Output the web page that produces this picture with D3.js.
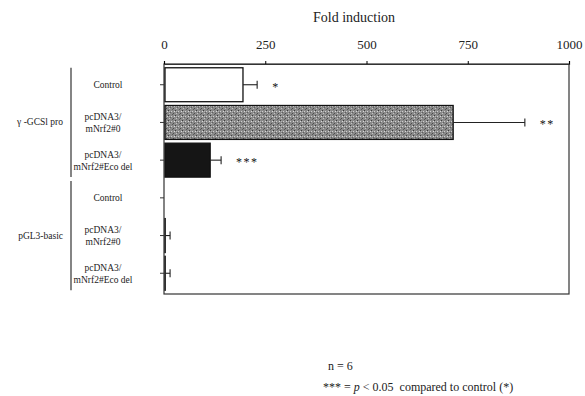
<!DOCTYPE html>
<html>
<head>
<meta charset="utf-8">
<script src="https://cdn.jsdelivr.net/npm/d3@7"></script>
<style>
  body { margin: 0; background: #fff; }
  text { font-family: "Liberation Serif", "DejaVu Serif", serif; fill: #222; }
</style>
</head>
<body>
<div id="chart"></div>
<script>
// Data
const groupNames = ["\u03b3 -GCSl pro", "pGL3-basic"];
const rowIds = ["g1", "g1n", "g1e", "b1", "b1n", "b1e"];
const rowGroup = [0, 0, 0, 1, 1, 1];
const rowLabels = [
    ["Control"],
    ["pcDNA3/", "mNrf2#0"],
    ["pcDNA3/", "mNrf2#Eco del"],
    ["Control"],
    ["pcDNA3/", "mNrf2#0"],
    ["pcDNA3/", "mNrf2#Eco del"]
];
const foldValues = [195, 714, 114, 0, 3, 3];
const errValues = [35, 177, 27, 0, 12, 12];
const sigMarks = ["*", "**", "***", "", "", ""];
const xTicks = [0, 250, 500, 750, 1000];

const width = 585;
const height = 396;
const margins = {top: 64, right: 16, bottom: 102, left: 164};

const svg = d3.select("#chart")
    .append("svg")
    .attr("width", width)
    .attr("height", height);

// speckled grey fill for the second bar
const defs = svg.append("defs");
const pat = defs.append("pattern")
    .attr("id", "speckle")
    .attr("patternUnits", "userSpaceOnUse")
    .attr("width", 7)
    .attr("height", 5);
pat.append("rect").attr("width", 7).attr("height", 5).attr("fill", "#8a8a8a");
[[0,0,"#3c3c3c"],[3,1,"#cfcfcf"],[5,3,"#4a4a4a"],[1,3,"#c4c4c4"],[4,4,"#5a5a5a"],[6,1,"#dadada"],[2,2,"#5f5f5f"],[1,1,"#b5b5b5"]]
    .forEach(p => pat.append("rect")
        .attr("x", p[0]).attr("y", p[1])
        .attr("width", 1).attr("height", 1)
        .attr("fill", p[2]));

// Scales
const x = d3.scaleLinear()
    .domain([0, 1000])
    .range([margins.left, width - margins.right]);
const y = d3.scaleBand()
    .domain(rowIds)
    .range([margins.top, height - margins.bottom])
    .paddingInner(0.1)
    .paddingOuter(0.1);
const fill = d3.scaleOrdinal()
    .domain(rowIds)
    .range(["#fff", "url(#speckle)", "#151515", "#fff", "#fff", "#fff"]);

const rows = rowIds.map((id, i) => ({
    id, label: rowLabels[i], group: rowGroup[i],
    value: foldValues[i], err: errValues[i], mark: sigMarks[i]
}));

// Frame
const x0 = x(0), x1 = x(1000), yTop = margins.top, yBot = height - margins.bottom;
svg.append("rect")
    .attr("x", x0).attr("y", yTop)
    .attr("width", x1 - x0).attr("height", yBot - yTop)
    .attr("fill", "none")
    .attr("stroke", "#333")
    .attr("stroke-width", 1.2);

// Top axis
const xAxis = svg.append("g")
    .attr("transform", `translate(0,${yTop})`)
    .call(d3.axisTop(x).tickValues(xTicks).tickFormat(d3.format("d")).tickSize(3).tickPadding(12));
xAxis.select(".domain").attr("stroke", "#333").attr("stroke-width", 1.2);
xAxis.selectAll("text")
    .style("font-family", "Liberation Serif, serif")
    .style("font-size", "13px")
    .attr("fill", "#222");

svg.append("text")
    .attr("x", 354)
    .attr("y", 22)
    .attr("text-anchor", "middle")
    .style("font-size", "14px")
    .text("Fold induction");

// Left axis ticks (labels drawn separately)
const yAxis = svg.append("g")
    .attr("transform", `translate(${x0},0)`)
    .call(d3.axisLeft(y).tickSize(4).tickFormat(""));
yAxis.select(".domain").remove();
yAxis.selectAll("line").attr("stroke", "#333");

// Bars
svg.selectAll(".bar")
    .data(rows)
    .enter()
    .append("rect")
    .attr("class", "bar")
    .attr("x", x0 + 1)
    .attr("y", d => y(d.id))
    .attr("width", d => Math.max(0, x(d.value) - x0 - 1))
    .attr("height", y.bandwidth())
    .attr("fill", d => fill(d.id))
    .attr("stroke", d => d.value > 0 ? "#111" : "none")
    .attr("stroke-width", 1.3);

// Error bars
const withErr = rows.filter(d => d.err > 0);
const cy = d => y(d.id) + y.bandwidth() / 2;
svg.selectAll(".err")
    .data(withErr)
    .enter()
    .append("line")
    .attr("x1", d => x(d.value))
    .attr("x2", d => x(d.value + d.err))
    .attr("y1", cy).attr("y2", cy)
    .attr("stroke", "#222")
    .attr("stroke-width", 1.1);
svg.selectAll(".cap")
    .data(withErr)
    .enter()
    .append("line")
    .attr("x1", d => x(d.value + d.err))
    .attr("x2", d => x(d.value + d.err))
    .attr("y1", d => cy(d) - 4).attr("y2", d => cy(d) + 4)
    .attr("stroke", "#222")
    .attr("stroke-width", 1.1);

// Significance marks
svg.selectAll(".sig")
    .data(rows.filter(d => d.mark))
    .enter()
    .append("text")
    .attr("x", d => x(d.value + d.err) + 15)
    .attr("y", d => cy(d) + 6)
    .style("font-size", "12px")
    .style("letter-spacing", "1.5px")
    .style("fill", "#111")
    .text(d => d.mark);

// Row labels
rows.forEach(d => {
    const t = svg.append("text")
        .attr("text-anchor", "middle")
        .style("font-size", "9.5px");
    const n = d.label.length;
    d.label.forEach((s, k) => {
        t.append("tspan")
            .attr("x", n === 1 ? 108 : 103)
            .attr("y", cy(d) + 3.5 + (k - (n - 1) / 2) * 12)
            .text(s);
    });
});

// Group brackets and names
groupNames.forEach((g, gi) => {
    const members = rows.filter(d => d.group === gi);
    const top = y(members[0].id);
    const bot = y(members[members.length - 1].id) + y.bandwidth();
    svg.append("line")
        .attr("x1", 71).attr("x2", 71)
        .attr("y1", top).attr("y2", bot)
        .attr("stroke", "#333")
        .attr("stroke-width", 1.2);
    svg.append("text")
        .attr("x", 63)
        .attr("y", (top + bot) / 2 + 3)
        .attr("text-anchor", "end")
        .style("font-size", "9.5px")
        .text(g);
});

// Footnote
svg.append("text")
    .attr("x", 328)
    .attr("y", 370)
    .style("font-size", "12px")
    .text("n = 6");
const foot = svg.append("text")
    .attr("x", 323)
    .attr("y", 391)
    .style("font-size", "12px");
foot.append("tspan").text("*** = ");
foot.append("tspan").style("font-style", "italic").text("p");
foot.append("tspan").text(" < 0.05\u00a0 compared to control (*)");
</script>
</body>
</html>
